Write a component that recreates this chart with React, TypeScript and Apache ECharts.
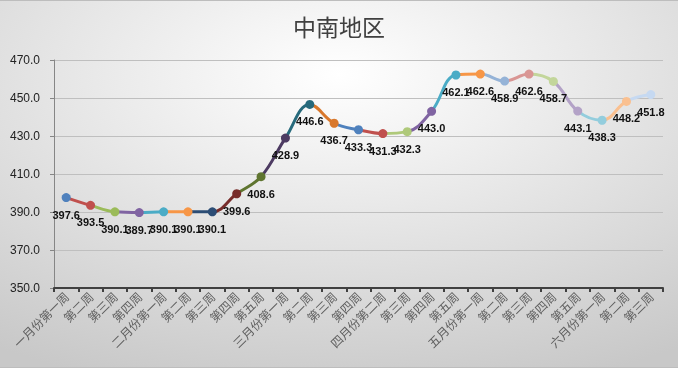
import React, { useEffect, useRef } from "react";
import * as echarts from "echarts";

const titleText = "中南地区";

const categories = [
  "一月份第一周", "第二周", "第三周", "第四周",
  "二月份第一周", "第二周", "第三周", "第四周", "第五周",
  "三月份第一周", "第二周", "第三周", "第四周",
  "四月份第二周", "第三周", "第四周", "第五周",
  "五月份第一周", "第二周", "第三周", "第四周", "第五周",
  "六月份第一周", "第二周", "第三周",
];

const values = [
  397.6, 393.5, 390.1, 389.7, 390.1, 390.1, 390.1, 399.6, 408.6, 428.9,
  446.6, 436.7, 433.3, 431.3, 432.3, 443.0, 462.1, 462.6, 458.9, 462.6,
  458.7, 443.1, 438.3, 448.2, 451.8,
];

const pointColors = [
  "#4F81BD", "#C0504D", "#9BBB59", "#8064A2", "#4BACC6", "#F79646",
  "#2C4D75", "#772C2A", "#5F7530", "#4D3B62", "#276A7C", "#D9782C",
  "#4F81BD", "#C0504D", "#AFC97A", "#8064A2", "#4BACC6", "#F79646",
  "#95B3D7", "#D99694", "#C3D69B", "#B3A2C7", "#93CDDD", "#FAC090",
  "#C6D9F1",
];

const yTicks = { min: 350, max: 470, interval: 20 };

export default function App() {
  const ref = useRef<HTMLDivElement>(null);

  useEffect(() => {
    document.body.style.margin = "0";
    if (!ref.current) return;
    const chart = echarts.init(ref.current, null, { renderer: "svg" });

    const pieces = pointColors.map((c, i) =>
      i === 0 ? { lte: 0, color: c } : { gt: i - 1, lte: i, color: c }
    );

    chart.setOption({
      animation: false,
      backgroundColor: new echarts.graphic.RadialGradient(0.5, 0.2, 0.9, [
        { offset: 0, color: "#ffffff" },
        { offset: 1, color: "#c8c8c8" },
      ]),
      title: {
        text: titleText,
        left: "center",
        top: 8,
        textStyle: {
          fontFamily: "Noto Sans CJK SC",
          fontSize: 23,
          fontWeight: "normal",
          color: "#404040",
        },
      },
      grid: { left: 54, right: 15, top: 59, bottom: 79 },
      visualMap: {
        show: false,
        type: "piecewise",
        dimension: 0,
        pieces,
      },
      xAxis: {
        type: "category",
        data: categories,
        boundaryGap: true,
        axisLine: { lineStyle: { color: "#404040", width: 2 } },
        axisTick: { show: true, length: 4, alignWithLabel: false, lineStyle: { color: "#404040", width: 2 } },
        axisLabel: {
          interval: 0,
          rotate: 45,
          fontFamily: "Noto Sans CJK SC",
          fontSize: 12,
          color: "#606060",
          margin: 6,
        },
      },
      yAxis: {
        type: "value",
        min: yTicks.min,
        max: yTicks.max,
        interval: yTicks.interval,
        axisLine: { show: true, lineStyle: { color: "#868686", width: 1 } },
        axisTick: { show: true, length: 4, lineStyle: { color: "#868686" } },
        splitLine: { show: true, lineStyle: { color: "#bfbfbf", width: 1 } },
        axisLabel: {
          formatter: (v: number) => v.toFixed(1),
          fontFamily: "Liberation Sans",
          fontSize: 12,
          color: "#222222",
          margin: 14,
        },
      },
      series: [
        {
          type: "line",
          data: values,
          smooth: 0.4,
          symbol: "circle",
          symbolSize: 9,
          lineStyle: { width: 3 },
          label: {
            show: true,
            position: "bottom",
            distance: 7,
            formatter: (p: any) => Number(p.value).toFixed(1),
            fontFamily: "Liberation Sans",
            fontWeight: "bold",
            fontSize: 11,
            color: "#111111",
          },
        },
      ],
    });

    return () => chart.dispose();
  }, []);

  return (
    <div
      ref={ref}
      style={{
        position: "fixed",
        left: 0,
        top: 0,
        width: 678,
        height: 368,
        boxSizing: "border-box",
        borderTop: "1px solid #bdbdbd",
        borderBottom: "1px solid #bdbdbd",
      }}
    />
  );
}
